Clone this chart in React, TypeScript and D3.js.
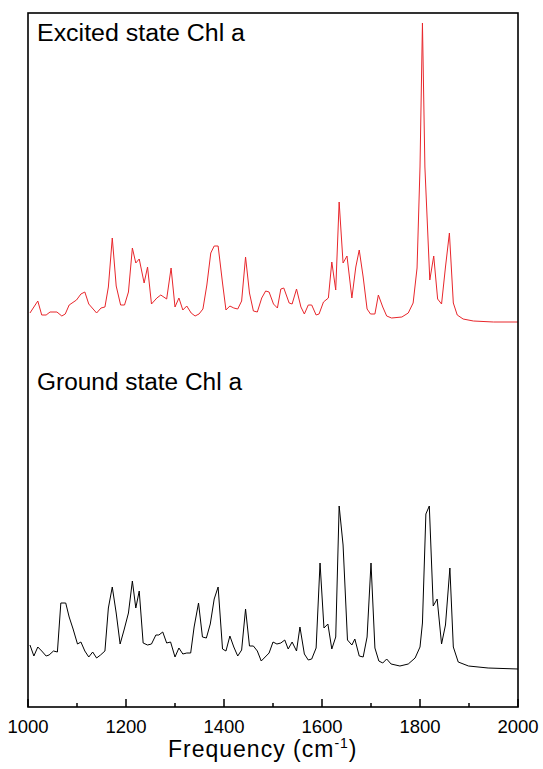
import * as d3 from "d3";

// wavenumber (cm-1) and relative intensity (arb. units, stacked)
const excitedFreq = [
  1004, 1020, 1028, 1037, 1045, 1059, 1069, 1076, 1084, 1099, 1108, 1116, 1124, 1140, 1149, 1157,
  1164, 1172, 1180, 1189, 1197, 1205, 1213, 1220, 1227, 1237, 1244, 1252, 1263, 1271, 1283, 1292,
  1300, 1308, 1316, 1324, 1333, 1341, 1349, 1357, 1365, 1373, 1380, 1388, 1397, 1404, 1412, 1420,
  1428, 1436, 1444, 1452, 1460, 1468, 1477, 1485, 1492, 1501, 1509, 1516, 1522, 1533, 1539, 1548,
  1557, 1564, 1572, 1579, 1588, 1594, 1603, 1613, 1620, 1628, 1635, 1643, 1651, 1661, 1669, 1676,
  1684, 1692, 1699, 1708, 1715, 1724, 1732, 1742, 1763, 1776, 1786, 1794, 1800, 1805, 1810, 1820,
  1828, 1836, 1844, 1852, 1860, 1868, 1876, 1888, 1909, 1950, 2000,
];
const excitedInt = [
  394, 406, 392, 392, 395, 395, 391, 393, 402, 407, 413, 415, 403, 394, 399, 400,
  420, 469, 421, 402, 402, 415, 459, 444, 448, 424, 440, 403, 409, 412, 408, 439,
  400, 409, 397, 401, 394, 391, 393, 398, 422, 454, 461, 461, 424, 397, 401, 399,
  398, 406, 450, 414, 396, 395, 409, 416, 415, 403, 399, 418, 419, 404, 403, 418,
  400, 393, 402, 402, 392, 393, 405, 409, 445, 417, 505, 444, 451, 409, 440, 457,
  430, 398, 393, 393, 412, 400, 391, 389, 390, 394, 404, 439, 540, 684, 540, 427,
  451, 408, 403, 440, 474, 404, 392, 388, 386, 385, 385,
];

const groundFreq = [
  1004, 1012, 1020, 1028, 1037, 1043, 1052, 1060, 1067, 1077, 1084, 1092, 1101, 1108, 1116, 1124,
  1132, 1140, 1148, 1157, 1164, 1172, 1180, 1188, 1196, 1205, 1213, 1220, 1227, 1235, 1244, 1252,
  1261, 1267, 1275, 1283, 1291, 1300, 1308, 1316, 1324, 1332, 1339, 1348, 1356, 1364, 1372, 1380,
  1388, 1397, 1404, 1412, 1420, 1428, 1436, 1444, 1452, 1460, 1468, 1476, 1484, 1492, 1500, 1508,
  1516, 1524, 1531, 1539, 1548, 1555, 1564, 1572, 1579, 1588, 1596, 1604, 1612, 1620, 1628, 1635,
  1643, 1652, 1661, 1667, 1676, 1684, 1692, 1700, 1708, 1716, 1724, 1732, 1741, 1759, 1776, 1790,
  1800, 1805, 1812, 1819, 1827, 1835, 1844, 1852, 1861, 1868, 1878, 1899, 1939, 2000,
];
const groundInt = [
  62, 51, 60, 56, 51, 52, 56, 55, 104, 104, 90, 78, 63, 65, 56, 50,
  55, 49, 52, 56, 99, 120, 94, 63, 77, 94, 126, 99, 116, 64, 62, 63,
  72, 72, 75, 64, 65, 50, 59, 53, 54, 54, 80, 104, 70, 69, 83, 108,
  120, 58, 56, 71, 60, 51, 57, 98, 61, 61, 56, 46, 50, 54, 65, 63,
  64, 67, 58, 65, 56, 80, 53, 47, 48, 59, 144, 79, 83, 58, 70, 201,
  162, 67, 62, 68, 51, 50, 70, 144, 59, 46, 44, 48, 43, 41, 43, 49,
  60, 84, 193, 201, 101, 108, 63, 82, 139, 60, 45, 41, 39, 38,
];

const xTicks = [1000, 1200, 1400, 1600, 1800, 2000];
const xMinorTicks = [1100, 1300, 1500, 1700, 1900];
const labels = ["Excited state Chl a", "Ground state Chl a"];

const W = 543;
const H = 769;
const margin = { top: 13, right: 25, bottom: 62, left: 28 };

export default function App() {
  const x = d3
    .scaleLinear()
    .domain([1000, 2000])
    .range([margin.left, W - margin.right]);
  const y = d3
    .scaleLinear()
    .domain([0, 694])
    .range([H - margin.bottom, margin.top]);

  const line = d3
    .line<[number, number]>()
    .x((d) => x(d[0]))
    .y((d) => y(d[1]));

  const excited = excitedFreq.map((f, i) => [f, excitedInt[i]] as [number, number]);
  const ground = groundFreq.map((f, i) => [f, groundInt[i]] as [number, number]);

  const font = "Arial, 'Liberation Sans', sans-serif";
  const bottom = H - margin.bottom;

  return (
    <svg
      width={W}
      height={H}
      style={{ position: "absolute", left: 0, top: 0, background: "#fff" }}
    >
      <path d={line(excited) ?? ""} fill="none" stroke="#e8262b" strokeWidth={1} />
      <path d={line(ground) ?? ""} fill="none" stroke="#000" strokeWidth={1} />

      {/* frame */}
      <rect
        x={margin.left}
        y={margin.top}
        width={W - margin.left - margin.right}
        height={bottom - margin.top}
        fill="none"
        stroke="#000"
        strokeWidth={1.6}
      />

      {xTicks.map((t) => (
        <g key={t}>
          <line x1={x(t)} x2={x(t)} y1={bottom} y2={bottom - 8} stroke="#000" strokeWidth={1.5} />
          <text
            x={x(t)}
            y={bottom + 26}
            textAnchor="middle"
            fontFamily={font}
            fontSize={18.5}
          >
            {t}
          </text>
        </g>
      ))}
      {xMinorTicks.map((t) => (
        <line key={t} x1={x(t)} x2={x(t)} y1={bottom} y2={bottom - 4} stroke="#000" strokeWidth={1.5} />
      ))}

      <text
        x={37}
        y={41}
        fontFamily={font}
        fontSize={23}
        textLength={208}
        lengthAdjust="spacingAndGlyphs"
      >
        {labels[0]}
      </text>
      <text
        x={37}
        y={389.5}
        fontFamily={font}
        fontSize={23}
        textLength={205}
        lengthAdjust="spacingAndGlyphs"
      >
        {labels[1]}
      </text>

      <text x={168} y={757} fontFamily={font} fontSize={23} letterSpacing={1}>
        Frequency (cm
        <tspan fontSize={14} dy={-9}>
          -1
        </tspan>
        <tspan dy={9}>)</tspan>
      </text>
    </svg>
  );
}
